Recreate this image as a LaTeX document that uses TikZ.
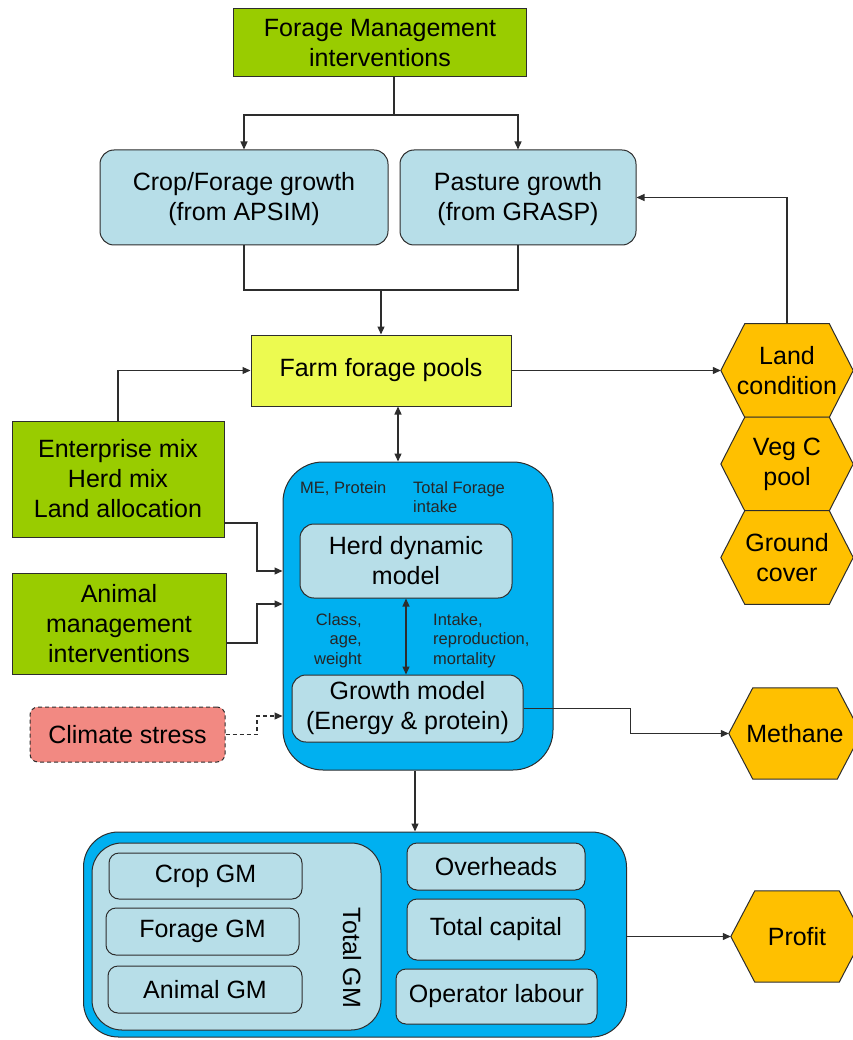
\documentclass[tikz,border=0pt]{standalone}
\usepackage{fontspec}
\setmainfont{Liberation Sans}
\usetikzlibrary{arrows.meta,backgrounds,calc}
\definecolor{fgreen}{RGB}{153,204,0}
\definecolor{lblue}{RGB}{183,222,232}
\definecolor{bblue}{RGB}{0,176,240}
\definecolor{hexc}{RGB}{255,192,0}
\definecolor{fyellow}{RGB}{236,250,80}
\definecolor{salmon}{RGB}{242,137,130}
\definecolor{linec}{RGB}{45,45,45}
\newcommand\hexbg[1]{\fill[hexc,draw=linec,line width=1pt] (#1.west) -- ([xshift=24pt]#1.north west) -- ([xshift=-24pt]#1.north east) -- (#1.east) -- ([xshift=-24pt]#1.south east) -- ([xshift=24pt]#1.south west) -- cycle;}
\begin{document}
\begin{tikzpicture}[x=1pt,y=-1pt,
  every node/.style={font=\fontsize{25}{30}\selectfont, text=black, align=center, inner sep=0pt},
  sz/.style 2 args={minimum width=#1pt, minimum height=#2pt},
  greenbox/.style={draw=linec, line width=1pt, fill=fgreen},
  lbox/.style={draw=linec, line width=1pt, fill=lblue, rounded corners=#1pt},
  lbox/.default=14,
  bbox/.style={draw=linec, line width=1pt, fill=bblue, rounded corners=#1pt},
  hexnode/.style={minimum width=132pt, minimum height=93.5pt},
  small/.style={font=\fontsize{16.5}{19.5}\selectfont, text=black!85},
  conn/.style={draw=linec, line width=1.2pt},
  arr/.style={conn, -{Triangle[length=8pt,width=7pt]}},
  darr/.style={conn, {Triangle[length=8pt,width=7pt]}-{Triangle[length=8pt,width=7pt]}},
  dashln/.style={dash pattern=on 4pt off 3pt}
]
\useasboundingbox (0,0) rectangle (852,1040);

% top
\node[greenbox, sz={293}{68}] (fm) at (380,43) {Forage Management\\interventions};
\node[lbox, sz={288}{95}] (crop) at (244,197.5) {\strut Crop/Forage growth\\(from APSIM)};
\node[lbox, sz={236}{95}] (past) at (518,197.5) {\strut Pasture growth\\(from GRASP)};
\node[draw=linec, line width=1pt, fill=fyellow, sz={260}{71}] (ffp) at (381,370.5) {Farm forage pools};

% hexagons
\node[hexnode] (lc) at (787,370.5) {Land\\condition};
\node[hexnode] (veg) at (787,464) {Veg C\\pool};
\node[hexnode] (gc) at (787,557.5) {Ground\\cover};
\node[hexnode, minimum height=91pt] (meth) at (795,733.5) {Methane};
\node[hexnode, minimum height=91pt] (prof) at (797,936.5) {Profit};
\begin{scope}[on background layer]
\hexbg{lc}\hexbg{veg}\hexbg{gc}\hexbg{meth}\hexbg{prof}
\end{scope}

% left inputs
\node[greenbox, sz={212}{116}] (ent) at (118,479) {Enterprise mix\\Herd mix\\Land allocation};
\node[greenbox, sz={214}{101}] (anim) at (119,623.5) {Animal\\management\\interventions};
\node[draw=linec, line width=1pt, dashln, fill=salmon, rounded corners=8pt, sz={195}{55}] (clim) at (127.5,734.5) {Climate stress};

% big blue model box
\node[bbox=40, sz={270}{308}] (big) at (418,616) {};
\node[small, anchor=north west] (me) at (300,481) {ME, Protein};
\node[small, anchor=north west, align=left] (tfi) at (413,481) {Total Forage\\intake};
\node[lbox, sz={212}{74}] (herd) at (406,561) {Herd dynamic\\model};
\node[lbox, sz={231}{67}] (growth) at (407.5,708.5) {Growth model\\(Energy \& protein)};
\node[small, anchor=north east, align=right] (caw) at (362,613) {Class,\\age,\\weight};
\node[small, anchor=north west, align=left] (irm) at (433,613) {Intake,\\reproduction,\\mortality};

% bottom economics box
\node[bbox=35, sz={543}{205}] (bot) at (355,934.5) {};
\node[lbox=30, sz={289}{187}] (tgm) at (236.5,936.5) {};
\node[rotate=-90] (tgml) at (352,958) {Total GM};
\node[lbox=10, sz={193}{46}] (cgm) at (205.5,876) {Crop GM};
\node[lbox=10, sz={193}{47}] (fgm) at (202.5,931.5) {Forage GM};
\node[lbox=10, sz={194}{47}] (agm) at (205,989.5) {Animal GM};
\node[lbox=10, sz={178}{47}] (ovh) at (496,866.5) {Overheads};
\node[lbox=10, sz={178}{61}] (tcap) at (496,929.5) {Total capital};
\node[lbox=10, sz={201}{55}] (opl) at (496.5,996.5) {Operator labour};

% connectors
\coordinate (s1) at (394,115);
\draw[conn] (fm.south -| s1) -- (s1);
\draw[arr] (s1) -| (crop.north);
\draw[arr] (s1) -| (past.north);
\coordinate (m1) at (381,290);
\draw[conn] (crop.south) |- (m1) -| (past.south);
\draw[arr] (m1) -- (ffp.north);
\coordinate (d1) at (398,0);
\draw[darr] (ffp.south -| d1) -- (big.north -| d1);
\draw[arr] (ffp.east) -- (lc.west);
\draw[arr] (lc.north) |- (past.east);
\draw[arr] (ent.north) |- (ffp.west);
\coordinate (j1) at (257,523);
\coordinate (e1) at (0,571);
\draw[arr] (ent.east |- j1) -- (j1) |- (big.west |- e1);
\coordinate (j2) at (257,643);
\coordinate (e2) at (0,604);
\draw[arr] (anim.east |- j2) -- (j2) |- (big.west |- e2);
\coordinate (j3) at (257,734.5);
\coordinate (e3) at (0,716);
\draw[arr, dashln] (clim.east) -- (j3) |- (big.west |- e3);
\draw[darr] (herd.south) -- (herd.south |- growth.north);
\draw[arr] (growth.east) -- ++(107,0) |- (meth.west);
\coordinate (d2) at (415,0);
\draw[arr] (big.south -| d2) -- (bot.north -| d2);
\draw[arr] (prof.west -| bot.east) -- (prof.west);
\end{tikzpicture}
\end{document}
